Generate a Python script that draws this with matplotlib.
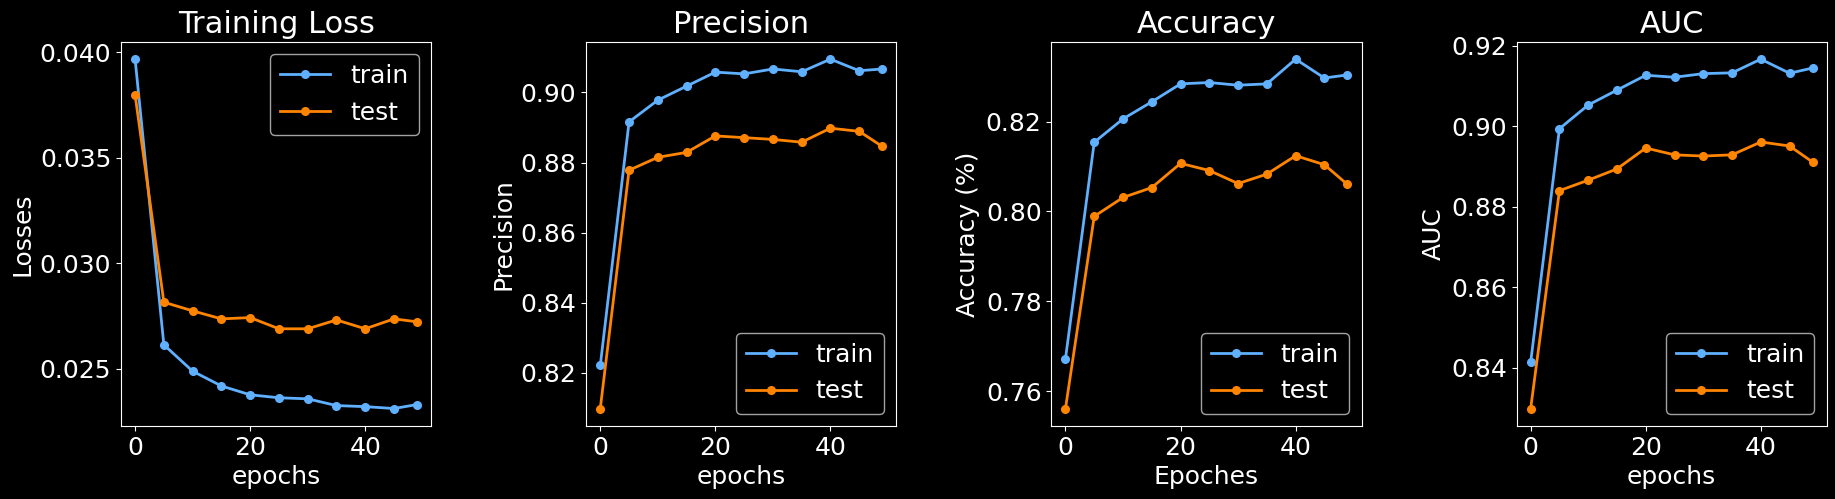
import matplotlib
matplotlib.use("Agg")
import matplotlib.pyplot as plt
from matplotlib.ticker import MultipleLocator

epochs = [0, 5, 10, 15, 20, 25, 30, 35, 40, 45, 49]

loss_train = [0.03968, 0.02614, 0.02489, 0.02419, 0.02377, 0.02363, 0.02358, 0.02326, 0.02321, 0.02312, 0.02331]
loss_test = [0.03798, 0.02816, 0.02775, 0.02737, 0.02743, 0.02690, 0.02690, 0.02732, 0.02690, 0.02737, 0.02723]

prec_train = [0.8221, 0.8916, 0.8978, 0.9018, 0.9058, 0.9053, 0.9067, 0.9059, 0.9095, 0.9062, 0.9067]
prec_test = [0.8098, 0.8778, 0.8815, 0.8829, 0.8876, 0.8871, 0.8866, 0.8858, 0.8898, 0.8889, 0.8846]

acc_train = [0.7672, 0.8154, 0.8206, 0.8244, 0.8284, 0.8287, 0.8281, 0.8284, 0.8339, 0.8297, 0.8304]
acc_test = [0.7561, 0.7989, 0.8031, 0.8053, 0.8107, 0.8091, 0.8062, 0.8083, 0.8124, 0.8104, 0.8060]

auc_train = [0.8413, 0.8994, 0.9053, 0.9090, 0.9127, 0.9122, 0.9131, 0.9133, 0.9167, 0.9132, 0.9145]
auc_test = [0.8298, 0.8840, 0.8866, 0.8894, 0.8946, 0.8929, 0.8926, 0.8929, 0.8961, 0.8951, 0.8911]

titles = ["Training Loss", "Precision", "Accuracy", "AUC"]
ylabels = ["Losses", "Precision", "Accuracy (%)", "AUC"]
xlabels = ["epochs", "epochs", "Epoches", "epochs"]
legend_locs = ["upper right", "lower right", "lower right", "lower right"]
ytick_steps = [0.005, 0.02, 0.02, 0.02]
series = [(loss_train, loss_test), (prec_train, prec_test),
          (acc_train, acc_test), (auc_train, auc_test)]

plt.style.use("dark_background")
plt.rcParams["font.size"] = 18

fig, axes = plt.subplots(1, 4, figsize=(18.35, 4.99), dpi=100)
fig.subplots_adjust(left=121/1835, right=1826.7/1835, top=1-41.7/499,
                    bottom=1-426/499, wspace=0.5)

blue = "#5fb0ff"
orange = "#ff8400"
for ax, (tr, te), t, yl, xl, loc, st in zip(axes, series, titles, ylabels, xlabels,
                                           legend_locs, ytick_steps):
    ax.plot(epochs, tr, marker="o", markersize=5.5, linewidth=2, color=blue, label="train")
    ax.plot(epochs, te, marker="o", markersize=5.5, linewidth=2, color=orange, label="test")
    ax.set_title(t, fontsize=22)
    ax.set_xlabel(xl, fontsize=18)
    ax.set_ylabel(yl, fontsize=18)
    ax.tick_params(labelsize=18)
    ax.yaxis.set_major_locator(MultipleLocator(st))
    ax.legend(loc=loc, fontsize=18)

fig.savefig("out.png", dpi=100, facecolor="black")
